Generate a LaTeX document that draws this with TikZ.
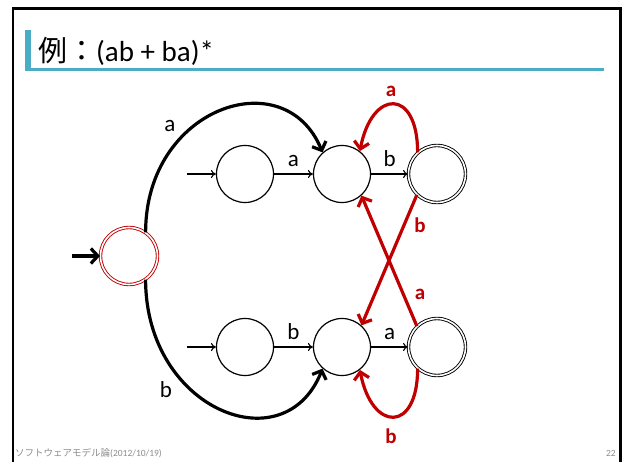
\documentclass[tikz,border=0pt]{standalone}
\usepackage{fontspec}
\setmainfont{Carlito}
\newfontfamily\jp{Noto Sans CJK JP}
\usetikzlibrary{arrows.meta}
\definecolor{dred}{HTML}{C00000}
\definecolor{tealbar}{HTML}{4BACC6}
\definecolor{footgray}{HTML}{8C8C8C}
\begin{document}
\begin{tikzpicture}[x=1pt,y=-1pt,
  st/.style={circle,draw,line width=1.2pt,minimum size=57pt,inner sep=0pt},
  acc/.style={circle,draw,line width=0.9pt,double,double distance=1.6pt,minimum size=57pt,inner sep=0pt},
  tarr/.style={line width=1.1pt,-{To[length=5pt,width=8pt]}},
  thk/.style={line width=3.2pt,-{Straight Barb[length=7pt,width=15pt]}},
  rarr/.style={thk,draw=dred},
  lbl/.style={font=\fontsize{23}{23}\selectfont,inner sep=0pt},
  rlbl/.style={font=\fontsize{21}{21}\selectfont\bfseries,text=dred,inner sep=0pt},
]
\useasboundingbox (0,0) rectangle (622,462);
\fill[white] (0,0) rectangle (622,462);
% frame
\draw[line width=2.5pt] (13,470) -- (13,8.5) -- (620.5,8.5) -- (620.5,470);
% title
\fill[tealbar] (25,30) rectangle (30.5,70);
\draw[tealbar,line width=2.5pt] (25,69.5) -- (604,69.5);
\node[anchor=base west,inner sep=0pt,font=\fontsize{29}{29}\selectfont] (title) at (38,62) {{\jp 例：}(ab + ba)*};
% footer
\node[anchor=base west,inner sep=0pt,text=footgray,font=\fontsize{9.5}{9.5}\selectfont] (foot) at (15,457) {{\jp ソフトウェアモデル論}(2012/10/19)};
\node[anchor=base east,inner sep=0pt,text=footgray,font=\fontsize{9.5}{9.5}\selectfont] (page) at (616,457) {22};
% states
\node[acc,draw=dred] (s) at (129,256) {};
\node[st] (q1) at (245,174) {};
\node[st] (q2) at (342,174) {};
\node[acc] (q3) at (437,174) {};
\node[st] (q4) at (245,347) {};
\node[st] (q5) at (342,347) {};
\node[acc] (q6) at (437,347) {};
% entry points
\coordinate (s0) at (72,256);
\coordinate (q10) at (187,174);
\coordinate (q40) at (187,347);
\draw[line width=3.2pt,-{Straight Barb[length=7pt,width=15pt]}] (s0) -- (s);
\draw[tarr] (q10) -- (q1);
\draw[tarr] (q40) -- (q4);
% straight transitions
\draw[tarr] (q1) -- node[lbl,midway,anchor=base,yshift=7pt] (l12) {a} (q2);
\draw[tarr] (q2) -- node[lbl,midway,anchor=base,yshift=7pt] (l23) {b} (q3);
\draw[tarr] (q4) -- node[lbl,midway,anchor=base,yshift=7pt] (l45) {b} (q5);
\draw[tarr] (q5) -- node[lbl,midway,anchor=base,yshift=7pt] (l56) {a} (q6);
% big curves
\draw[thk] (s.55) .. controls +(0,-125) and +(-38,-92) .. (q2.132);
\draw[thk] (s.-55) .. controls +(0,130) and +(-38,96) .. (q5.-132);
\node[lbl,anchor=base] (la) at (170,132) {a};
\node[lbl,anchor=base] (lb) at (166,398) {b};
% red transitions
\draw[rarr] (q3.132) .. controls +(0,-65) and +(12,-62) .. (q2.52);
\draw[rarr] (q6.-132) .. controls +(0,65) and +(12,62) .. (q5.-52);
\draw[rarr] (q3.226) -- (q5.48);
\draw[rarr] (q6.134) -- (q2.-48);
\node[rlbl,anchor=base] (ra1) at (391,97) {a};
\node[rlbl,anchor=base] (rb1) at (420,233) {b};
\node[rlbl,anchor=base] (ra2) at (420,300) {a};
\node[rlbl,anchor=base] (rb2) at (391,444) {b};
\end{tikzpicture}
\end{document}
